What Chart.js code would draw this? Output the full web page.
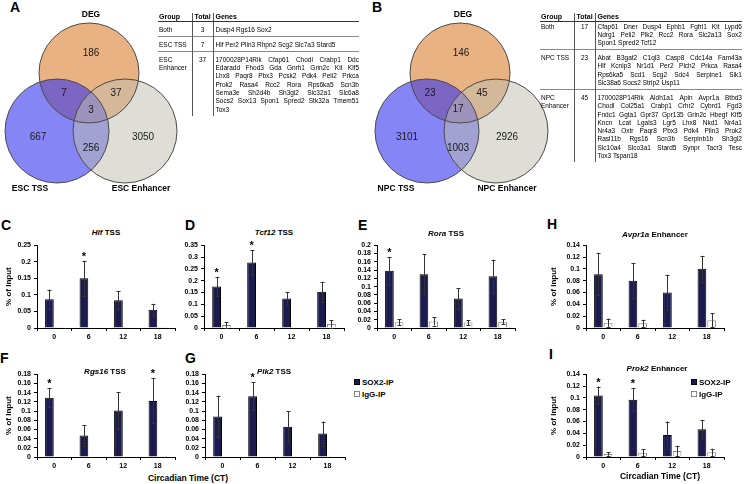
<!DOCTYPE html>
<html lang="en">
<head>
<meta charset="UTF-8">
<title>SOX2 binding - Venn and ChIP-qPCR</title>
<script src="https://cdn.jsdelivr.net/npm/chart.js"></script>
<style>
  body { margin: 0; background: #fff; font-family: 'Liberation Sans', Arial, sans-serif; color: #000; }
  #fig { position: relative; width: 744px; height: 484px; overflow: hidden; }
  #fig canvas { position: absolute; }
  .letter { position: absolute; font-weight: bold; font-size: 14px; line-height: 14px; }
  .lab { position: absolute; font-weight: bold; font-size: 8.5px; line-height: 10px; white-space: nowrap; transform: translateX(-50%); }
  .ttl { position: absolute; font-weight: bold; font-size: 8px; line-height: 10px; white-space: nowrap; transform: translateX(-50%); }
  .leg { position: absolute; font-weight: bold; font-size: 8px; line-height: 12px; }
  .sq { display: inline-block; width: 4px; height: 4px; margin-right: 2px; border: 1px solid #000; vertical-align: 0px; }
  table.gt { position: absolute; border-collapse: collapse; table-layout: fixed; font-size: 6.5px; }
  table.gt th { font-size: 7px; font-weight: bold; text-align: left; line-height: 8px; padding: 0 0 0 1px; border-bottom: 1px solid #333; }
  table.gt td { vertical-align: top; line-height: 8.3px; padding: var(--pt) 0 1.9px 1px; }
  table.gt tr + tr + tr td { border-top: 1px solid #888; }
  table.gt .c2 { border-left: 1px solid #555; text-align: center; padding-left: 0; }
  table.gt .c3 { border-left: 1px solid #555; padding-left: 2px; padding-right: 0; }
  .j { display: flex; justify-content: space-between; white-space: nowrap; }
</style>
</head>
<body>
<div id="fig">
  <div class="letter" style="left:10px;top:0px">A</div>
  <div class="letter" style="left:372px;top:0px">B</div>
  <div class="letter" style="left:1px;top:218px">C</div>
  <div class="letter" style="left:185px;top:218px">D</div>
  <div class="letter" style="left:358px;top:218px">E</div>
  <div class="letter" style="left:547px;top:217px">H</div>
  <div class="letter" style="left:0px;top:351px">F</div>
  <div class="letter" style="left:185px;top:351px">G</div>
  <div class="letter" style="left:549px;top:347px">I</div>

  <canvas id="vennA" width="186" height="184" style="left:0;top:0"></canvas>
  <canvas id="vennB" width="186" height="184" style="left:372px;top:0"></canvas>
  <div class="lab" style="left:91px;top:9px">DEG</div>
  <div class="lab" style="left:463px;top:9px">DEG</div>
  <div class="lab" style="left:30px;top:183px">ESC TSS</div>
  <div class="lab" style="left:141px;top:183px">ESC Enhancer</div>
  <div class="lab" style="left:396px;top:183px">NPC TSS</div>
  <div class="lab" style="left:507px;top:183px">NPC Enhancer</div>

  <table class="gt" id="tabA" style="left:158px;top:13px;width:201px">
    <colgroup><col style="width:34px"><col style="width:21px"><col style="width:146px"></colgroup>
  </table>
  <table class="gt" id="tabB" style="left:540px;top:13px;width:202px">
    <colgroup><col style="width:34px"><col style="width:21px"><col style="width:147px"></colgroup>
  </table>

  <canvas id="cHlf" width="180" height="105" style="left:0;top:238px"></canvas>
  <canvas id="cTcf" width="169" height="105" style="left:180px;top:238px"></canvas>
  <canvas id="cRora" width="170" height="105" style="left:350px;top:238px"></canvas>
  <canvas id="cAvpr" width="180" height="105" style="left:549px;top:238px"></canvas>
  <canvas id="cRgs" width="180" height="105" style="left:0;top:367px"></canvas>
  <canvas id="cPlk" width="170" height="105" style="left:180px;top:367px"></canvas>
  <canvas id="cProk" width="180" height="105" style="left:549px;top:367px"></canvas>

  <div class="ttl" style="left:106px;top:228px"><i>Hlf</i> TSS</div>
  <div class="ttl" style="left:274px;top:228px"><i>Tcf12</i> TSS</div>
  <div class="ttl" style="left:446px;top:229px"><i>Rora</i> TSS</div>
  <div class="ttl" style="left:655px;top:230px"><i>Avpr1a</i> Enhancer</div>
  <div class="ttl" style="left:105px;top:367px"><i>Rgs16</i> TSS</div>
  <div class="ttl" style="left:274px;top:367px"><i>Plk2</i> TSS</div>
  <div class="ttl" style="left:657px;top:364px"><i>Prok2</i> Enhancer</div>

  <div class="leg" style="left:354px;top:377px">
    <div><span class="sq" style="background:#1b1b50"></span>SOX2-IP</div>
    <div><span class="sq" style="background:#fff;border-color:#888"></span>IgG-IP</div>
  </div>
  <div class="leg" style="left:691px;top:377px">
    <div><span class="sq" style="background:#1b1b50"></span>SOX2-IP</div>
    <div><span class="sq" style="background:#fff;border-color:#888"></span>IgG-IP</div>
  </div>
  <div class="lab" style="left:188px;top:473px">Circadian Time (CT)</div>
  <div class="lab" style="left:660px;top:471px">Circadian Time (CT)</div>
</div>

<script>
// Venn counts: DEG only, DEG+TSS, DEG+Enh, all three, TSS only, TSS+Enh, Enh only
const escCounts = [186, 7, 37, 3, 667, 256, 3050];
const npcCounts = [146, 23, 45, 17, 3101, 1003, 2926];

// gene tables: group, total, gene lines
const escRows = [
  ['Both', '3', ['Dusp4 Rgs16 Sox2']],
  ['ESC TSS', '7', ['Hlf Per2 Plin3 Rhpn2 Scg2 Slc7a3 Stard5']],
  ['ESC<br>Enhancer', '37', [
    '1700028P14Rik Cfap61 Chodl Crabp1 Ddc',
    'Edaradd Fhod3 Gda Gnrh1 Grin2c Kit Klf5',
    'Lhx8 Paqr8 Pbx3 Pcsk2 Pdk4 Peli2 Prkca',
    'Prok2 Rasa4 Rcc2 Rora Rps6ka5 Scn3b',
    'Sema3e Sh2d4b Sh3gl2 Slc32a1 Slc6a8',
    'Socs2 Sox13 Spon1 Spred2 Stk32a Tmem51',
    'Tox3']]
];
const npcRows = [
  ['Both', '17', [
    'Cfap61 Dner Dusp4 Ephb1 Fgfrl1 Kit Lypd6',
    'Ndrg1 Peli2 Plk2 Rcc2 Rora Slc2a13 Sox2',
    'Spon1 Spred2 Tcf12']],
  ['NPC TSS', '23', [
    'Abat B3gat2 C1ql3 Casp8 Cdc14a Fam43a',
    'Hlf Kcnip3 Nr1d1 Per2 Plch2 Prkca Rasa4',
    'Rps6ka5 Scd1 Scg2 Sdc4 Serpine1 Sik1',
    'Slc38a6 Socs2 Strip2 Usp11']],
  ['NPC<br>Enhancer', '45', [
    '1700028P14Rik Aldh1a1 Apln Avpr1a Btbd3',
    'Chodl Col25a1 Crabp1 Crhr2 Cybrd1 Fgd3',
    'Fndc1 Ggta1 Gpr37 Gpr135 Grin2c Hbegf Klf5',
    'Kncn Lcat Lgals3 Lgr5 Lhx8 Nkd1 Nr4a1',
    'Nr4a3 Oxtr Paqr8 Pbx3 Pdk4 Plin3 Prok2',
    'Rasl11b Rgs16 Scn3b Serpinb1b Sh3gl2',
    'Slc10a4 Slco3a1 Stard5 Synpr Tacr3 Tesc',
    'Tox3 Tspan18']]
];

// ChIP-qPCR, % of input
const times = ['0', '6', '12', '18'];

const hlfSox = [0.087, 0.150, 0.084, 0.055];
const hlfSoxErr = [0.029, 0.053, 0.028, 0.018];
const hlfIgg = [0.002, 0.002, 0.002, 0.002];
const hlfIggErr = [0, 0, 0, 0];
const hlfSig = [0, 1, 0, 0];
const hlfTicks = [0, 0.05, 0.1, 0.15, 0.2, 0.25];

const tcfSox = [0.175, 0.277, 0.125, 0.153];
const tcfSoxErr = [0.040, 0.053, 0.028, 0.042];
const tcfIgg = [0.013, 0.002, 0.002, 0.017];
const tcfIggErr = [0.012, 0, 0, 0.015];
const tcfSig = [1, 1, 0, 0];
const tcfTicks = [0, 0.05, 0.1, 0.15, 0.2, 0.25, 0.3, 0.35];

const roraSox = [0.138, 0.130, 0.071, 0.125];
const roraSoxErr = [0.034, 0.048, 0.025, 0.040];
const roraIgg = [0.014, 0.016, 0.013, 0.015];
const roraIggErr = [0.007, 0.010, 0.006, 0.006];
const roraSig = [1, 0, 0, 0];
const roraTicks = [0, 0.02, 0.04, 0.06, 0.08, 0.1, 0.12, 0.14, 0.16, 0.18, 0.2];

const avprSox = [0.091, 0.080, 0.060, 0.100];
const avprSoxErr = [0.036, 0.030, 0.030, 0.022];
const avprIgg = [0.009, 0.008, 0.001, 0.013];
const avprIggErr = [0.007, 0.006, 0, 0.012];
const avprSig = [0, 0, 0, 0];
const avprTicks = [0, 0.02, 0.04, 0.06, 0.08, 0.1, 0.12, 0.14];

const rgsSox = [0.129, 0.047, 0.101, 0.122];
const rgsSoxErr = [0.020, 0.022, 0.040, 0.049];
const rgsIgg = [0.001, 0.001, 0.001, 0.002];
const rgsIggErr = [0, 0, 0, 0];
const rgsSig = [1, 0, 0, 1];
const rgsTicks = [0, 0.02, 0.04, 0.06, 0.08, 0.1, 0.12, 0.14, 0.16, 0.18];

const plkSox = [0.088, 0.132, 0.066, 0.051];
const plkSoxErr = [0.045, 0.030, 0.034, 0.026];
const plkIgg = [0.001, 0.001, 0.001, 0.001];
const plkIggErr = [0, 0, 0, 0];
const plkSig = [0, 1, 0, 0];
const plkTicks = [0, 0.02, 0.04, 0.06, 0.08, 0.1, 0.12, 0.14, 0.16, 0.18];

const prokSox = [0.104, 0.097, 0.037, 0.047];
const prokSoxErr = [0.015, 0.019, 0.023, 0.015];
const prokIgg = [0.005, 0.007, 0.010, 0.008];
const prokIggErr = [0.003, 0.006, 0.009, 0.006];
const prokSig = [1, 1, 0, 0];
const prokTicks = [0, 0.02, 0.04, 0.06, 0.08, 0.1, 0.12, 0.14];

Chart.defaults.font.family = "'Liberation Sans', Arial, sans-serif";
Chart.defaults.color = '#000';

// ---- gene tables ----
function buildTable(id, rows, firstPad) {
  const t = document.getElementById(id);
  let html = '<tr><th>Group</th><th class="c2">Total</th><th class="c3">Genes</th></tr>';
  rows.forEach((r, i) => {
    const pad = i === 0 ? firstPad : 3.8;
    const lines = r[2].map((ln, k) => k < r[2].length - 1
      ? '<div class="j">' + ln.split(' ').map(w => '<span>' + w + '</span>').join('') + '</div>'
      : '<div>' + ln + '</div>').join('');
    html += '<tr style="--pt:' + pad + 'px"><td>' + r[0] + '</td><td class="c2">' + r[1] +
      '</td><td class="c3">' + lines + '</td></tr>';
  });
  t.insertAdjacentHTML('beforeend', html);
}
buildTable('tabA', escRows, 3.8);
buildTable('tabB', npcRows, 0.5);

// ---- venn diagrams (bubble chart, scales set so 1 unit = 1 px) ----
const vennLayoutA = {
  deg: [89, 73, 50], tss: [57, 131, 52], enh: [125, 131, 52],
  pos: [[91, 53], [64, 93], [116, 93], [91, 110], [38, 137], [91, 148], [143, 137]]
};
const vennLayoutB = {
  deg: [88, 73, 50], tss: [55, 131, 52], enh: [124, 131, 52],
  pos: [[89, 53], [58, 93], [110, 93], [86, 109], [35, 137], [86, 148], [135, 137]]
};

const vennPlugin = {
  id: 'venn',
  beforeDatasetDraw(chart, args) {
    chart.ctx.save();
    chart.ctx.globalCompositeOperation = chart.data.datasets[args.index].blend || 'source-over';
  },
  afterDatasetDraw(chart) { chart.ctx.restore(); },
  afterDatasetsDraw(chart) {
    const ctx = chart.ctx, sx = chart.scales.x, sy = chart.scales.y;
    ctx.save();
    ctx.strokeStyle = '#4a4a4a';
    ctx.lineWidth = 1;
    chart.data.datasets.forEach((ds, i) => {
      const el = chart.getDatasetMeta(i).data[0];
      ctx.beginPath();
      ctx.arc(el.x, el.y, el.options.radius, 0, Math.PI * 2);
      ctx.stroke();
    });
    const lay = chart.options.plugins.venn;
    ctx.fillStyle = '#1a1a1a';
    ctx.font = "10px 'Liberation Sans', Arial, sans-serif";
    ctx.textAlign = 'center';
    ctx.textBaseline = 'middle';
    lay.counts.forEach((c, k) => {
      ctx.fillText(String(c), sx.getPixelForValue(lay.pos[k][0]), sy.getPixelForValue(lay.pos[k][1]));
    });
    ctx.restore();
  }
};

function venn(id, counts, lay) {
  const cv = document.getElementById(id);
  // the bubble controller insets the chart area by the largest radius on every side
  const pad = Math.max(lay.deg[2], lay.tss[2], lay.enh[2]);
  const circle = c => [{ x: c[0], y: c[1], r: c[2] }];
  return new Chart(cv, {
    type: 'bubble',
    data: {
      datasets: [
        { data: circle(lay.enh), backgroundColor: 'rgba(190,190,176,0.5)', clip: false },
        { data: circle(lay.tss), backgroundColor: 'rgba(52,52,240,0.6)', clip: false },
        { data: circle(lay.deg), backgroundColor: 'rgb(233,178,131)', clip: false }
      ]
    },
    options: {
      responsive: false, animation: false, events: [],
      layout: { padding: 0 },
      elements: { point: { borderWidth: 0 } },
      plugins: { legend: { display: false }, tooltip: { enabled: false }, venn: { counts: counts, pos: lay.pos } },
      scales: {
        x: { type: 'linear', display: false, min: pad, max: cv.width - pad },
        y: { type: 'linear', display: false, min: pad, max: cv.height - pad, reverse: true }
      }
    },
    plugins: [vennPlugin]
  });
}
venn('vennA', escCounts, vennLayoutA);
venn('vennB', npcCounts, vennLayoutB);

// ---- bar charts with error bars ----
const errorBars = {
  id: 'errorBars',
  afterDatasetsDraw(chart) {
    const ctx = chart.ctx, ys = chart.scales.y;
    ctx.save();
    chart.data.datasets.forEach((ds, i) => {
      chart.getDatasetMeta(i).data.forEach((bar, j) => {
        const v = ds.data[j], e = ds.err[j];
        let top = ys.getPixelForValue(v);
        if (e > 0) {
          top = ys.getPixelForValue(v + e);
          const bot = ys.getPixelForValue(Math.max(v - e, 0));
          const x = Math.round(bar.x) + 0.5;
          ctx.strokeStyle = '#333';
          ctx.lineWidth = 1;
          ctx.beginPath();
          ctx.moveTo(x, top); ctx.lineTo(x, bot);
          ctx.moveTo(x - 2, Math.round(top) + 0.5); ctx.lineTo(x + 2, Math.round(top) + 0.5);
          ctx.moveTo(x - 2, Math.round(bot) + 0.5); ctx.lineTo(x + 2, Math.round(bot) + 0.5);
          ctx.stroke();
        }
        if (ds.sig && ds.sig[j]) {
          ctx.fillStyle = '#000';
          ctx.font = "bold 11px 'Liberation Sans', Arial, sans-serif";
          ctx.textAlign = 'center';
          ctx.textBaseline = 'alphabetic';
          ctx.fillText('*', bar.x, top - 1);
        }
      });
    });
    ctx.restore();
  }
};

function fmt(v) { return String(parseFloat(v.toFixed(3))); }

function barChart(id, d) {
  return new Chart(document.getElementById(id), {
    type: 'bar',
    data: {
      labels: times,
      datasets: [
        { label: 'SOX2-IP', data: d.sox, err: d.soxErr, sig: d.sig,
          backgroundColor: '#1b1b50', borderColor: '#000', borderWidth: 1 },
        { label: 'IgG-IP', data: d.igg, err: d.iggErr,
          backgroundColor: '#fff', borderColor: '#888', borderWidth: 1 }
      ]
    },
    options: {
      responsive: false, animation: false, events: [],
      layout: { padding: { top: 5, right: 5, left: 0, bottom: 0 } },
      plugins: { legend: { display: false }, tooltip: { enabled: false } },
      datasets: { bar: { categoryPercentage: 0.56, barPercentage: 0.9 } },
      scales: {
        x: {
          grid: { drawOnChartArea: false, tickLength: 3, color: '#000' },
          border: { color: '#000' },
          ticks: { font: { size: 7, weight: 'bold' }, padding: 2 },
          afterFit: s => { s.height = 15; }
        },
        y: {
          min: 0, max: d.ticks[d.ticks.length - 1],
          afterBuildTicks: s => { s.ticks = d.ticks.map(v => ({ value: v })); },
          grid: { drawOnChartArea: false, tickLength: 3, color: '#000' },
          border: { color: '#000' },
          ticks: { font: { size: 7, weight: 'bold' }, padding: 3, autoSkip: false, callback: v => fmt(v) },
          title: { display: !!d.yTitle, text: '% of Input', font: { size: 8, weight: 'bold' },
                   padding: { top: d.titlePad || 0, bottom: 0 } },
          afterFit: s => { s.width = d.yw; }
        }
      }
    },
    plugins: [errorBars]
  });
}

barChart('cHlf', { sox: hlfSox, soxErr: hlfSoxErr, igg: hlfIgg, iggErr: hlfIggErr, sig: hlfSig, ticks: hlfTicks, yw: 37, yTitle: true, titlePad: 4 });
barChart('cTcf', { sox: tcfSox, soxErr: tcfSoxErr, igg: tcfIgg, iggErr: tcfIggErr, sig: tcfSig, ticks: tcfTicks, yw: 24 });
barChart('cRora', { sox: roraSox, soxErr: roraSoxErr, igg: roraIgg, iggErr: roraIggErr, sig: roraSig, ticks: roraTicks, yw: 27 });
barChart('cAvpr', { sox: avprSox, soxErr: avprSoxErr, igg: avprIgg, iggErr: avprIggErr, sig: avprSig, ticks: avprTicks, yw: 37, yTitle: true, titlePad: 0 });
barChart('cRgs', { sox: rgsSox, soxErr: rgsSoxErr, igg: rgsIgg, iggErr: rgsIggErr, sig: rgsSig, ticks: rgsTicks, yw: 37, yTitle: true, titlePad: 4 });
barChart('cPlk', { sox: plkSox, soxErr: plkSoxErr, igg: plkIgg, iggErr: plkIggErr, sig: plkSig, ticks: plkTicks, yw: 25 });
barChart('cProk', { sox: prokSox, soxErr: prokSoxErr, igg: prokIgg, iggErr: prokIggErr, sig: prokSig, ticks: prokTicks, yw: 37, yTitle: true, titlePad: 0 });
</script>
</body>
</html>
